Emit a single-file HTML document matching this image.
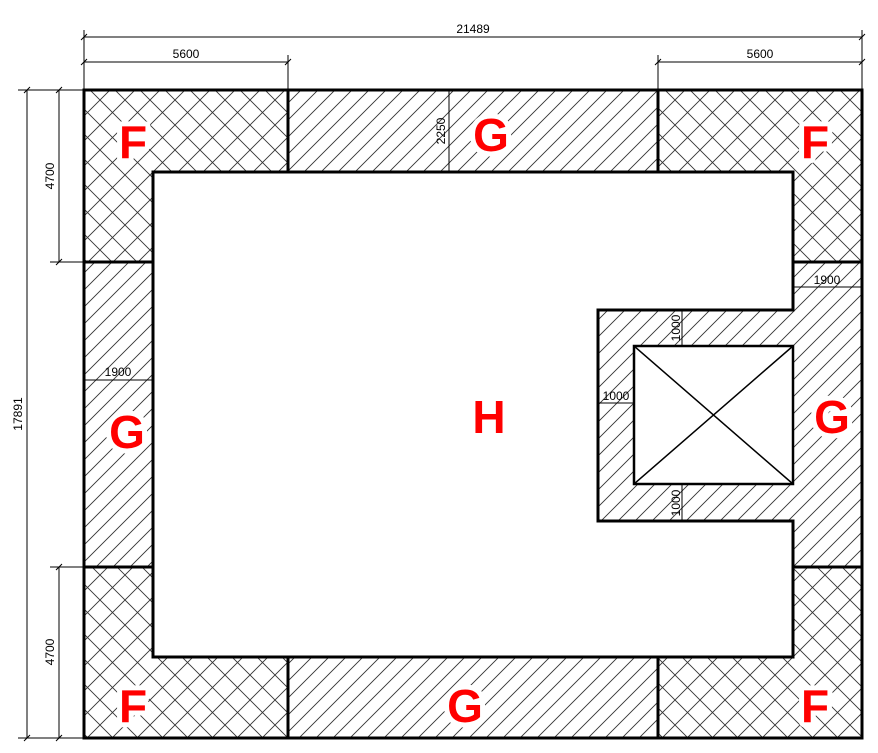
<!DOCTYPE html>
<html><head><style>body{margin:0;background:#fff}svg{display:block}</style></head><body>
<svg width="878" height="753" viewBox="0 0 878 753" xmlns="http://www.w3.org/2000/svg" font-family="Liberation Sans, sans-serif">
<defs>
<pattern id="h" width="17" height="17" patternUnits="userSpaceOnUse"><path d="M-1,18 L18,-1 M-9,9 L9,-9 M8,26 L26,8" stroke="#333" stroke-width="0.9"/></pattern>
<pattern id="x" width="25" height="25" patternUnits="userSpaceOnUse"><path d="M0,25 L25,0 M0,0 L25,25 M-5,5 L5,-5 M20,30 L30,20 M-5,20 L5,30 M20,-5 L30,5" stroke="#333" stroke-width="0.9"/></pattern>
</defs>
<path d="M84,90 H862 V738 H84 Z M153,172 V657 H793 V521 H598 V310 H793 V172 Z" fill="url(#h)" fill-rule="evenodd"/>
<g fill="#fff">
<path d="M84,90 H288 V172 H153 V262 H84 Z"/>
<path d="M658,90 H862 V262 H793 V172 H658 Z"/>
<path d="M84,738 H288 V657 H153 V567 H84 Z"/>
<path d="M658,738 H862 V567 H793 V657 H658 Z"/>
</g>
<g fill="url(#x)">
<path d="M84,90 H288 V172 H153 V262 H84 Z"/>
<path d="M658,90 H862 V262 H793 V172 H658 Z"/>
<path d="M84,738 H288 V657 H153 V567 H84 Z"/>
<path d="M658,738 H862 V567 H793 V657 H658 Z"/>
</g>
<rect x="634" y="346" width="159" height="138" fill="#fff"/>
<g stroke="#000" stroke-width="3" fill="none">
<rect x="84" y="90" width="778" height="648"/>
<path d="M153,172 V657 H793 V521 H598 V310 H793 V172 Z"/>
<path d="M288,90 V172 M658,90 V172 M288,657 V738 M658,657 V738 M84,262 H153 M84,567 H153 M793,262 H862 M793,567 H862"/>
<rect x="634" y="346" width="159" height="138" stroke-width="2.5"/>
</g>
<path d="M634,346 L793,484 M793,346 L634,484" stroke="#000" stroke-width="1.5"/>
<g stroke="#000" stroke-width="1" fill="none">
<path d="M84,30 V90 M862,30 V90 M288,55 V90 M658,55 V90"/>
<path d="M84,37 H862 M84,62 H288 M658,62 H862"/>
<path d="M18,90 H84 M18,738 H84 M50,262 H84 M50,567 H84"/>
<path d="M27,90 V738 M59,90 V262 M59,567 V738"/>
<path d="M449,90 V172 M793,287 H862 M84,380 H153 M682,310 V346 M682,484 V521 M598,403 H634"/>
<path d="M81,40 L87,34 M859,40 L865,34 M81,65 L87,59 M285,65 L291,59 M655,65 L661,59 M859,65 L865,59 M24,93 L30,87 M24,741 L30,735 M56,93 L62,87 M56,265 L62,259 M56,570 L62,564 M56,741 L62,735"/>
</g>
<g font-size="12" fill="#000" text-anchor="middle">
<text x="473" y="33">21489</text>
<text x="186" y="58">5600</text>
<text x="760" y="58">5600</text>
<text x="827" y="284">1900</text>
<text x="118" y="376">1900</text>
<text x="616" y="400">1000</text>
<text transform="translate(54,176) rotate(-90)">4700</text>
<text transform="translate(54,652) rotate(-90)">4700</text>
<text transform="translate(22,414) rotate(-90)">17891</text>
<text transform="translate(445,131) rotate(-90)">2250</text>
<text transform="translate(680,328) rotate(-90)">1000</text>
<text transform="translate(680,503) rotate(-90)">1000</text>
</g>
<g font-size="46" font-weight="bold" fill="#f00" text-anchor="middle" stroke="#fff" stroke-width="10" paint-order="stroke" stroke-linejoin="round">
<text x="133" y="158">F</text>
<text x="491" y="151">G</text>
<text x="815" y="158">F</text>
<text x="127" y="448">G</text>
<text x="489" y="433" stroke="none">H</text>
<text x="832" y="433">G</text>
<text x="133" y="722">F</text>
<text x="465" y="722">G</text>
<text x="815" y="722">F</text>
</g>
</svg>
</body></html>
